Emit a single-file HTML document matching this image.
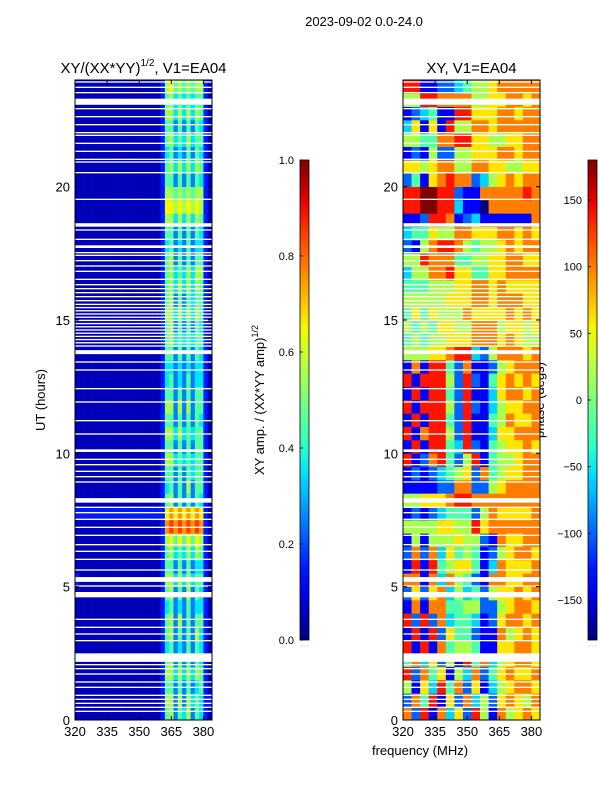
<!DOCTYPE html>
<html><head><meta charset="utf-8"><style>
body{margin:0;background:#fff;}
svg{display:block;font-family:"Liberation Sans",sans-serif;}
</style></head><body>
<svg id="fig" width="600" height="800" xmlns="http://www.w3.org/2000/svg">
<text x="364" y="26" font-size="13" text-anchor="middle">2023-09-02 0.0-24.0</text>
<text x="143.5" y="73" font-size="15" text-anchor="middle">XY/(XX*YY)<tspan font-size="10" dy="-7">1/2</tspan><tspan dy="7">, V1=EA04</tspan></text>
<text x="471.5" y="73" font-size="15" text-anchor="middle">XY, V1=EA04</text>
<text x="45" y="400" font-size="13" text-anchor="middle" transform="rotate(-90 45 400)">UT (hours)</text>
<text x="420" y="755" font-size="13" text-anchor="middle">frequency (MHz)</text>
<text x="264" y="400" font-size="13" text-anchor="middle" transform="rotate(-90 264 400)">XY amp. / (XX*YY amp)<tspan font-size="9" dy="-6">1/2</tspan></text>
<text x="544" y="400" font-size="13" text-anchor="middle" transform="rotate(-90 544 400)">phase (degs)</text>
<g id="ampPanel"></g>
<g id="phPanel"></g>
<g id="cb1"></g>
<g id="cb2"></g>
</svg>
<script>
const freqMin = 320, freqMax = 384, hourMin = 0, hourMax = 24;
const xTicks = [320, 335, 350, 365, 380];
const yTicks = [0, 5, 10, 15, 20];
const ampTicks = [0.0, 0.2, 0.4, 0.6, 0.8, 1.0];
const phaseTicks = [-150, -100, -50, 0, 50, 100, 150];
// amplitude rows (0.5 h each, bottom to top), 32 channels of 2 MHz, digit d -> d/10+0.05
const ampRows = [
"00000000000000000000145243524310","00000000000000000000155252534311","00000000000000000000144242423410","00000000000000000000155353535410",
"00000000000000000000145242424310","00000000000000000000134232424310","00000000000000000000145242425310","00000000000000000000145252424410",
"00000000000000000000134232423310","00000000000000000000145242524310","10000000000000000000155353534410","00000000000000000000144242423310",
"00000000000000000000145343535410","00000000000000000000156464646510","00000000000000000000178787878710","11111111111111111111167676767610",
"00000000000000000000145242424310","00000000000000000000134242524410","00000000000000000000144242434410","00000000000000000000155343434410",
"00000000000000000000144242424410","00000000000000000000155353434410","00000000000000000000144242424310","00000000000000000000155252524410",
"00000000000000000000144242424410","00000000000000000000134232423310","00000000000000000000133232323310","00000000000000000000144242424310",
"00000000000000000000145343434410","00000000000000000000145242424310","00000000000000000000155353535410","00000000000000000000145242434410",
"00000000000000000000145353535410","00000000000000000000145343535510","00000000000000000000145242424410","00000000000000000000134232423310",
"00000000000000000000144242424310","00000000000000000000155353535410","00000000000000000000166565656510","00000000000000000000155454545510",
"00000000000000000000144242424310","00000000000000000000145353535410","00000000000000000000134232424310","00000000000000000000145343534410",
"00000000000000000000144242424310","00000000000000000000155353535410","00000000000000000000145343434410","00000000000000000000156454545510"];
// phase rows (0.5 h each, bottom to top), 16 channels of 4 MHz, digit d -> -180 + d*40
const phaseRows = [
"7281736285175676","2748162735267657","5163847261356776","8274615372467667","4736251847356776","8181745541166776",
"1818264421175676","8282734431267767","1717744552256776","2626735342566767","7717375421776677","1818456641376667",
"2727364541256776","1515556552176677","5555665586777777","1212344425766667","5566678877777777","1111227722567777",
"1212345627456677","8127842581455677","1818843821456676","8178852811366777","1818842811457667","8188852821356677",
"1818842811367767","8188852821467676","1718842711256777","5556678832577767","4545566677767655","5454665577756656",
"4646555766667676","5555566677677766","4445556677676666","3557786644667777","5587774455667766","2157887545567677",
"3446557766677676","1128871231111117","8899883110777777","8899882117777787","2416787723567677","6656775577665566",
"1215225566677677","5544778866556677","3616185577677777","1234118866677677","5588777755667767","8811223455677777"];
// flagged (blank) intervals in hours
const gapStarts = [0.3,0.45,0.6,0.75,0.9,1.2,1.4,1.7,1.9,2.05,2.18,2.95,3.2,3.45,3.75,4.6,5.0,5.18,5.6,6.0,6.3,6.55,6.9,7.2,7.5,7.75,7.95,8.15,8.9,9.1,9.3,9.55,9.75,10.05,10.7,11.2,11.9,12.4,13.1,13.4,13.72,
14.0,14.12,14.24,14.36,14.48,14.6,14.72,14.84,14.96,15.08,15.2,15.32,15.44,15.56,15.7,15.85,16.0,16.15,16.3,16.5,16.8,17.0,17.2,17.4,17.5,17.7,18.0,18.35,18.5,19.5,20.5,20.9,21.0,21.3,21.6,21.9,22.0,22.3,22.6,22.9,23.07,23.5,23.7,23.9];
const gapLengths = [0.05,0.05,0.05,0.05,0.05,0.05,0.05,0.05,0.05,0.05,0.32,0.05,0.05,0.05,0.05,0.2,0.05,0.18,0.05,0.05,0.05,0.05,0.05,0.05,0.05,0.05,0.05,0.17,0.05,0.05,0.05,0.05,0.05,0.1,0.05,0.05,0.05,0.05,0.05,0.05,0.15,
0.05,0.05,0.05,0.05,0.05,0.05,0.05,0.05,0.05,0.05,0.05,0.05,0.05,0.05,0.05,0.05,0.05,0.05,0.05,0.05,0.05,0.05,0.05,0.05,0.05,0.1,0.05,0.05,0.13,0.05,0.05,0.05,0.05,0.05,0.05,0.05,0.05,0.05,0.05,0.05,0.23,0.05,0.05,0.05];

const NS = "http://www.w3.org/2000/svg";
function jet(v){
  v = Math.max(0, Math.min(1, v));
  function pw(pts){for(let i=1;i<pts.length;i++){if(v<=pts[i][0]){const a=pts[i-1],b=pts[i];return a[1]+(b[1]-a[1])*(v-a[0])/(b[0]-a[0]);}}return pts[pts.length-1][1];}
  const r=pw([[0,0],[0.35,0],[0.66,1],[0.89,1],[1,0.5]]);
  const g=pw([[0,0],[0.125,0],[0.375,1],[0.64,1],[0.91,0],[1,0]]);
  const b=pw([[0,0.5],[0.11,1],[0.34,1],[0.65,0],[1,0]]);
  return `rgb(${Math.round(r*255)},${Math.round(g*255)},${Math.round(b*255)})`;
}
function mk(tag, attrs, parent){const e=document.createElementNS(NS,tag);for(const k in attrs)e.setAttribute(k,attrs[k]);parent.appendChild(e);return e;}

function panel(g, X0, X1, Y0, Y1, rows, nCh, valFn, prefix){
  const sx = f => X0 + (f - freqMin) / (freqMax - freqMin) * (X1 - X0);
  const sy = h => Y1 - (h - hourMin) / (hourMax - hourMin) * (Y1 - Y0);
  const dh = (hourMax - hourMin) / rows.length, df = (freqMax - freqMin) / nCh;
  rows.forEach((row, ri) => {
    for (let c = 0; c < nCh; c++) {
      const x = sx(freqMin + c*df), y = sy(hourMin + (ri+1)*dh);
      const r = mk('rect', {x: x, y: y, width: sx(freqMin+(c+1)*df)-x+0.3, height: sy(ri*dh)-y+0.3, fill: jet(valFn(+row[c]))}, g);
      
      
    }
  });
  gapStarts.forEach((t, i) => {
    const y = sy(t + gapLengths[i]);
    const r = mk('rect', {x: X0, y: y, width: X1 - X0, height: sy(t) - y, fill: '#fff'}, g);
    
    
  });
  const fr = mk('rect', {x: X0, y: Y0, width: X1-X0, height: Y1-Y0, fill: 'none', stroke: '#000', 'stroke-width': 1}, g);
  
  
  xTicks.forEach(v => {
    const x = sx(v);
    mk('line', {x1: x, x2: x, y1: Y1, y2: Y1-4, stroke: '#000'}, g);
    mk('line', {x1: x, x2: x, y1: Y0, y2: Y0+4, stroke: '#000'}, g);
    const t = mk('text', {x: x, y: Y1+16, 'font-size': 13, 'text-anchor': 'middle'}, g);
    t.textContent = v;
    
    
  });
  yTicks.forEach(v => {
    const y = sy(v);
    mk('line', {x1: X0, x2: X0+4, y1: y, y2: y, stroke: '#000'}, g);
    mk('line', {x1: X1, x2: X1-4, y1: y, y2: y, stroke: '#000'}, g);
    const t = mk('text', {x: X0-5, y: y+5, 'font-size': 13, 'text-anchor': 'end'}, g);
    t.textContent = v;
    
    
  });
}
panel(document.getElementById('ampPanel'), 75, 212, 80, 720, ampRows, 32, d => d/10 + 0.05, 'amp');
panel(document.getElementById('phPanel'), 403, 540, 80, 720, phaseRows, 16, d => d/9, 'phase');

function colorbar(g, x, y0, y1, vmin, vmax, ticks, fmt, id){
  const grad = mk('linearGradient', {id: id, x1: 0, y1: 1, x2: 0, y2: 0}, document.getElementById('fig'));
  for (let i = 0; i <= 20; i++) mk('stop', {offset: i/20, 'stop-color': jet(i/20)}, grad);
  const b = mk('rect', {x: x, y: y0, width: 9, height: y1-y0, fill: `url(#${id})`, stroke: '#000', 'stroke-width': 0.8}, g);
  
  
  ticks.forEach(v => {
    const y = y1 - (v - vmin)/(vmax - vmin)*(y1 - y0);
    mk('line', {x1: x, x2: x+3, y1: y, y2: y, stroke: '#000', 'stroke-width': 0.8}, g);
    const t = mk('text', {x: x-6, y: y+4, 'font-size': 11, 'text-anchor': 'end'}, g);
    t.textContent = fmt(v);
    
    
  });
  mk('line', {x1: x, x2: x+9, y1: y1+6, y2: y1+6, stroke: '#999', 'stroke-width': 0.6, 'stroke-dasharray': '1 1'}, g);
}
colorbar(document.getElementById('cb1'), 300, 160, 640, 0, 1, ampTicks, v => v.toFixed(1), 'gradAmp');
colorbar(document.getElementById('cb2'), 588, 160, 640, -180, 180, phaseTicks, v => v < 0 ? '\u2212' + Math.abs(v) : String(v), 'gradPhase');
</script>
</body></html>
